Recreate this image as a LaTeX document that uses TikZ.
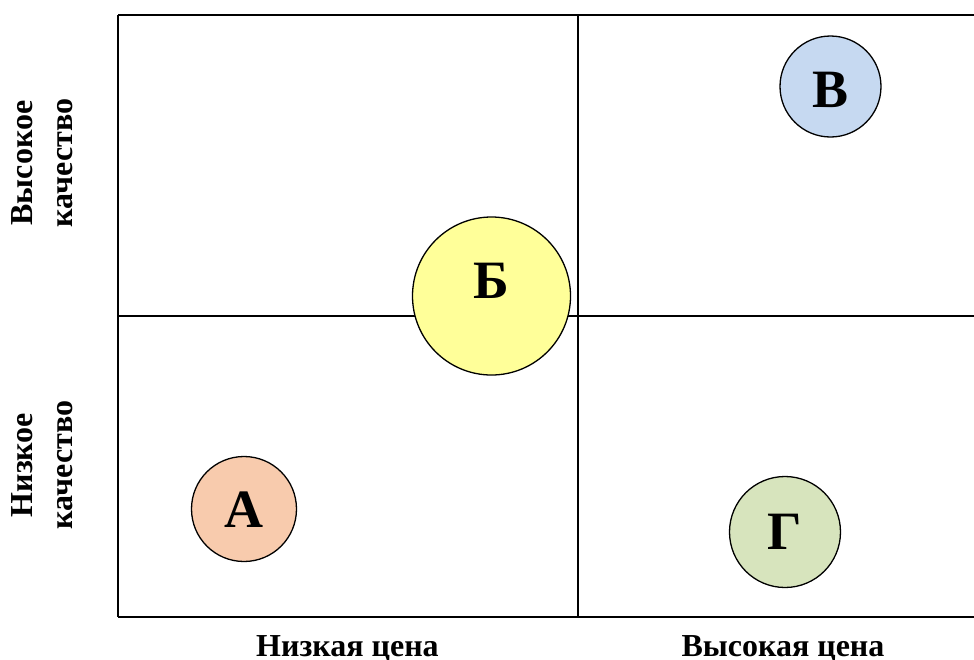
\documentclass[tikz,border=0pt]{standalone}
\usepackage{fontspec}
\setmainfont{Liberation Serif}
\definecolor{cA}{HTML}{F8CBAD}
\definecolor{cB}{HTML}{FFFF99}
\definecolor{cV}{HTML}{C6D9F1}
\definecolor{cG}{HTML}{D7E4BD}
\begin{document}
\begin{tikzpicture}[x=1pt,y=-1pt,
  frame/.style={line width=1.6pt},
  bubble/.style={circle,draw=black,line width=1.3pt,inner sep=0pt},
  letter/.style={font=\fontsize{54}{60}\selectfont\bfseries,inner sep=0pt},
  axislabel/.style={font=\fontsize{32}{40}\selectfont\bfseries,inner sep=0pt,align=center},
  sidelabel/.style={axislabel,rotate=90}]
\useasboundingbox (0,0) rectangle (974,659);
\clip (0,0) rectangle (974,659);
\coordinate (tl) at (118,15);
\coordinate (tr) at (990,15);
\coordinate (bl) at (118,617);
\coordinate (br) at (990,617);
\coordinate (ml) at (118,316);
\coordinate (mr) at (990,316);
\coordinate (mt) at (578,15);
\coordinate (mb) at (578,617);
\draw[frame] (tl) -- (tr) (bl) -- (br) (tl) -- (bl);
\draw[frame] (ml) -- (mr) (mt) -- (mb);
% circles
\node[bubble,fill=cB,minimum size=158pt] (b) at (491.5,296) {};
\node[letter] (bt) at (491.5,281) {Б};
\node[bubble,fill=cV,minimum size=101pt] (v) at (830.5,86.5) {};
\node[letter] (vt) at (830.5,89.5) {В};
\node[bubble,fill=cA,minimum size=105pt] (a) at (244,509) {};
\node[letter] (at) at (244,509.5) {А};
\node[bubble,fill=cG,minimum size=111pt] (g) at (785,532) {};
\node[letter] (gt) at (785,532) {Г};
% axis labels
\node[sidelabel] (hq) at (42,163) {Высокое\\качество};
\node[sidelabel] (lq) at (42,465) {Низкое\\качество};
\node[axislabel,anchor=base] (lp) at (347.5,656) {Низкая цена};
\node[axislabel,anchor=base] (hp) at (783,656) {Высокая цена};
\end{tikzpicture}
\end{document}
